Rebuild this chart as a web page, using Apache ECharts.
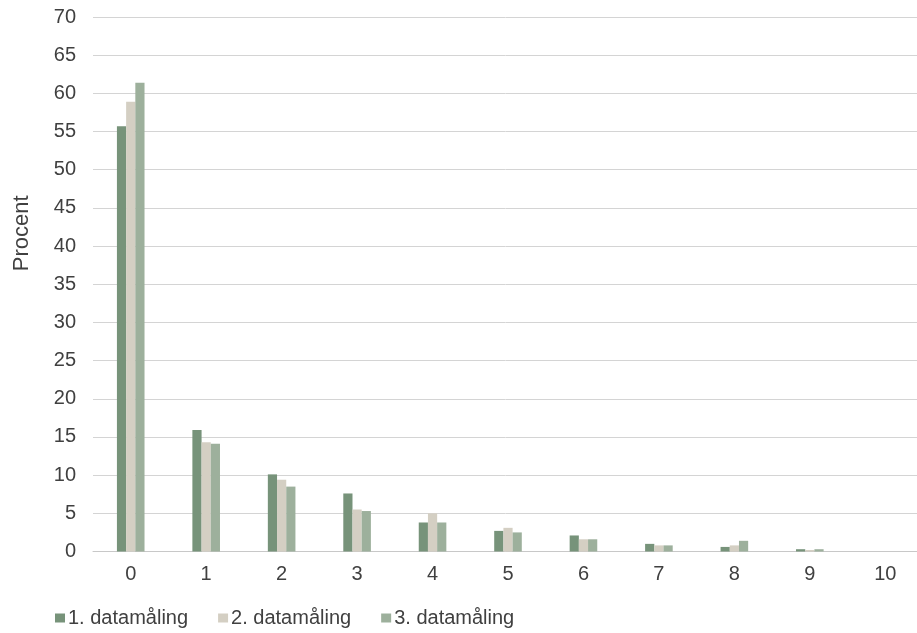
<!DOCTYPE html>
<html>
<head>
<meta charset="utf-8">
<script src="https://cdn.jsdelivr.net/npm/echarts@6/dist/echarts.min.js"></script>
<style>
  html, body { margin: 0; padding: 0; background: #ffffff; }
  #chart { width: 917px; height: 633px; }
</style>
</head>
<body>
<div id="chart"></div>
<script>
// Antal (0–10) på x-aksen, procentandel pr. datamåling
const categories = ['0', '1', '2', '3', '4', '5', '6', '7', '8', '9', '10'];
const seriesNames = ['1. datamåling', '2. datamåling', '3. datamåling'];
const maaling1 = [55.7, 15.9, 10.1, 7.6, 3.8, 2.7, 2.1, 1.0, 0.6, 0.3, 0];
const maaling2 = [58.9, 14.3, 9.4, 5.5, 5.0, 3.1, 1.6, 0.8, 0.8, 0.2, 0];
const maaling3 = [61.4, 14.1, 8.5, 5.3, 3.8, 2.5, 1.6, 0.8, 1.4, 0.3, 0];
const colors = ['#77937a', '#d4cfc3', '#9db09c'];

const font = 'Liberation Sans, Arial, sans-serif';
const textColor = '#404040';

const chart = echarts.init(document.getElementById('chart'), null, { renderer: 'canvas' });

const values = [maaling1, maaling2, maaling3];

chart.setOption({
  animation: false,
  color: colors,
  textStyle: { fontFamily: font },
  grid: { left: 93, top: 17, width: 830, height: 534.5, containLabel: false, outerBoundsMode: 'none' },
  legend: {
    left: 50,
    top: 603,
    itemWidth: 10,
    itemHeight: 9,
    itemGap: 30,
    icon: 'rect',
    textStyle: { fontSize: 20, color: textColor, fontFamily: font, padding: [0, 0, 0, -2] },
    data: seriesNames
  },
  xAxis: {
    type: 'category',
    data: categories,
    axisLine: { lineStyle: { color: '#c8c8c8', width: 1 } },
    axisTick: { show: false },
    axisLabel: { fontSize: 20, color: textColor, margin: 13, fontFamily: font }
  },
  yAxis: {
    type: 'value',
    min: 0,
    max: 70,
    interval: 5,
    name: 'Procent',
    nameLocation: 'middle',
    nameGap: 60,
    nameTextStyle: { fontSize: 22, color: textColor, fontFamily: font, padding: [0, 0, 0, 102] },
    axisLine: { show: false },
    axisTick: { show: false },
    axisLabel: { fontSize: 20, color: textColor, margin: 17, fontFamily: font },
    splitLine: { lineStyle: { color: '#d4d4d4', width: 1 } }
  },
  series: seriesNames.map((name, i) => ({
    name: name,
    type: 'bar',
    data: values[i],
    barWidth: 9.2,
    barGap: '0%',
    itemStyle: { color: colors[i] }
  }))
});
</script>
</body>
</html>
